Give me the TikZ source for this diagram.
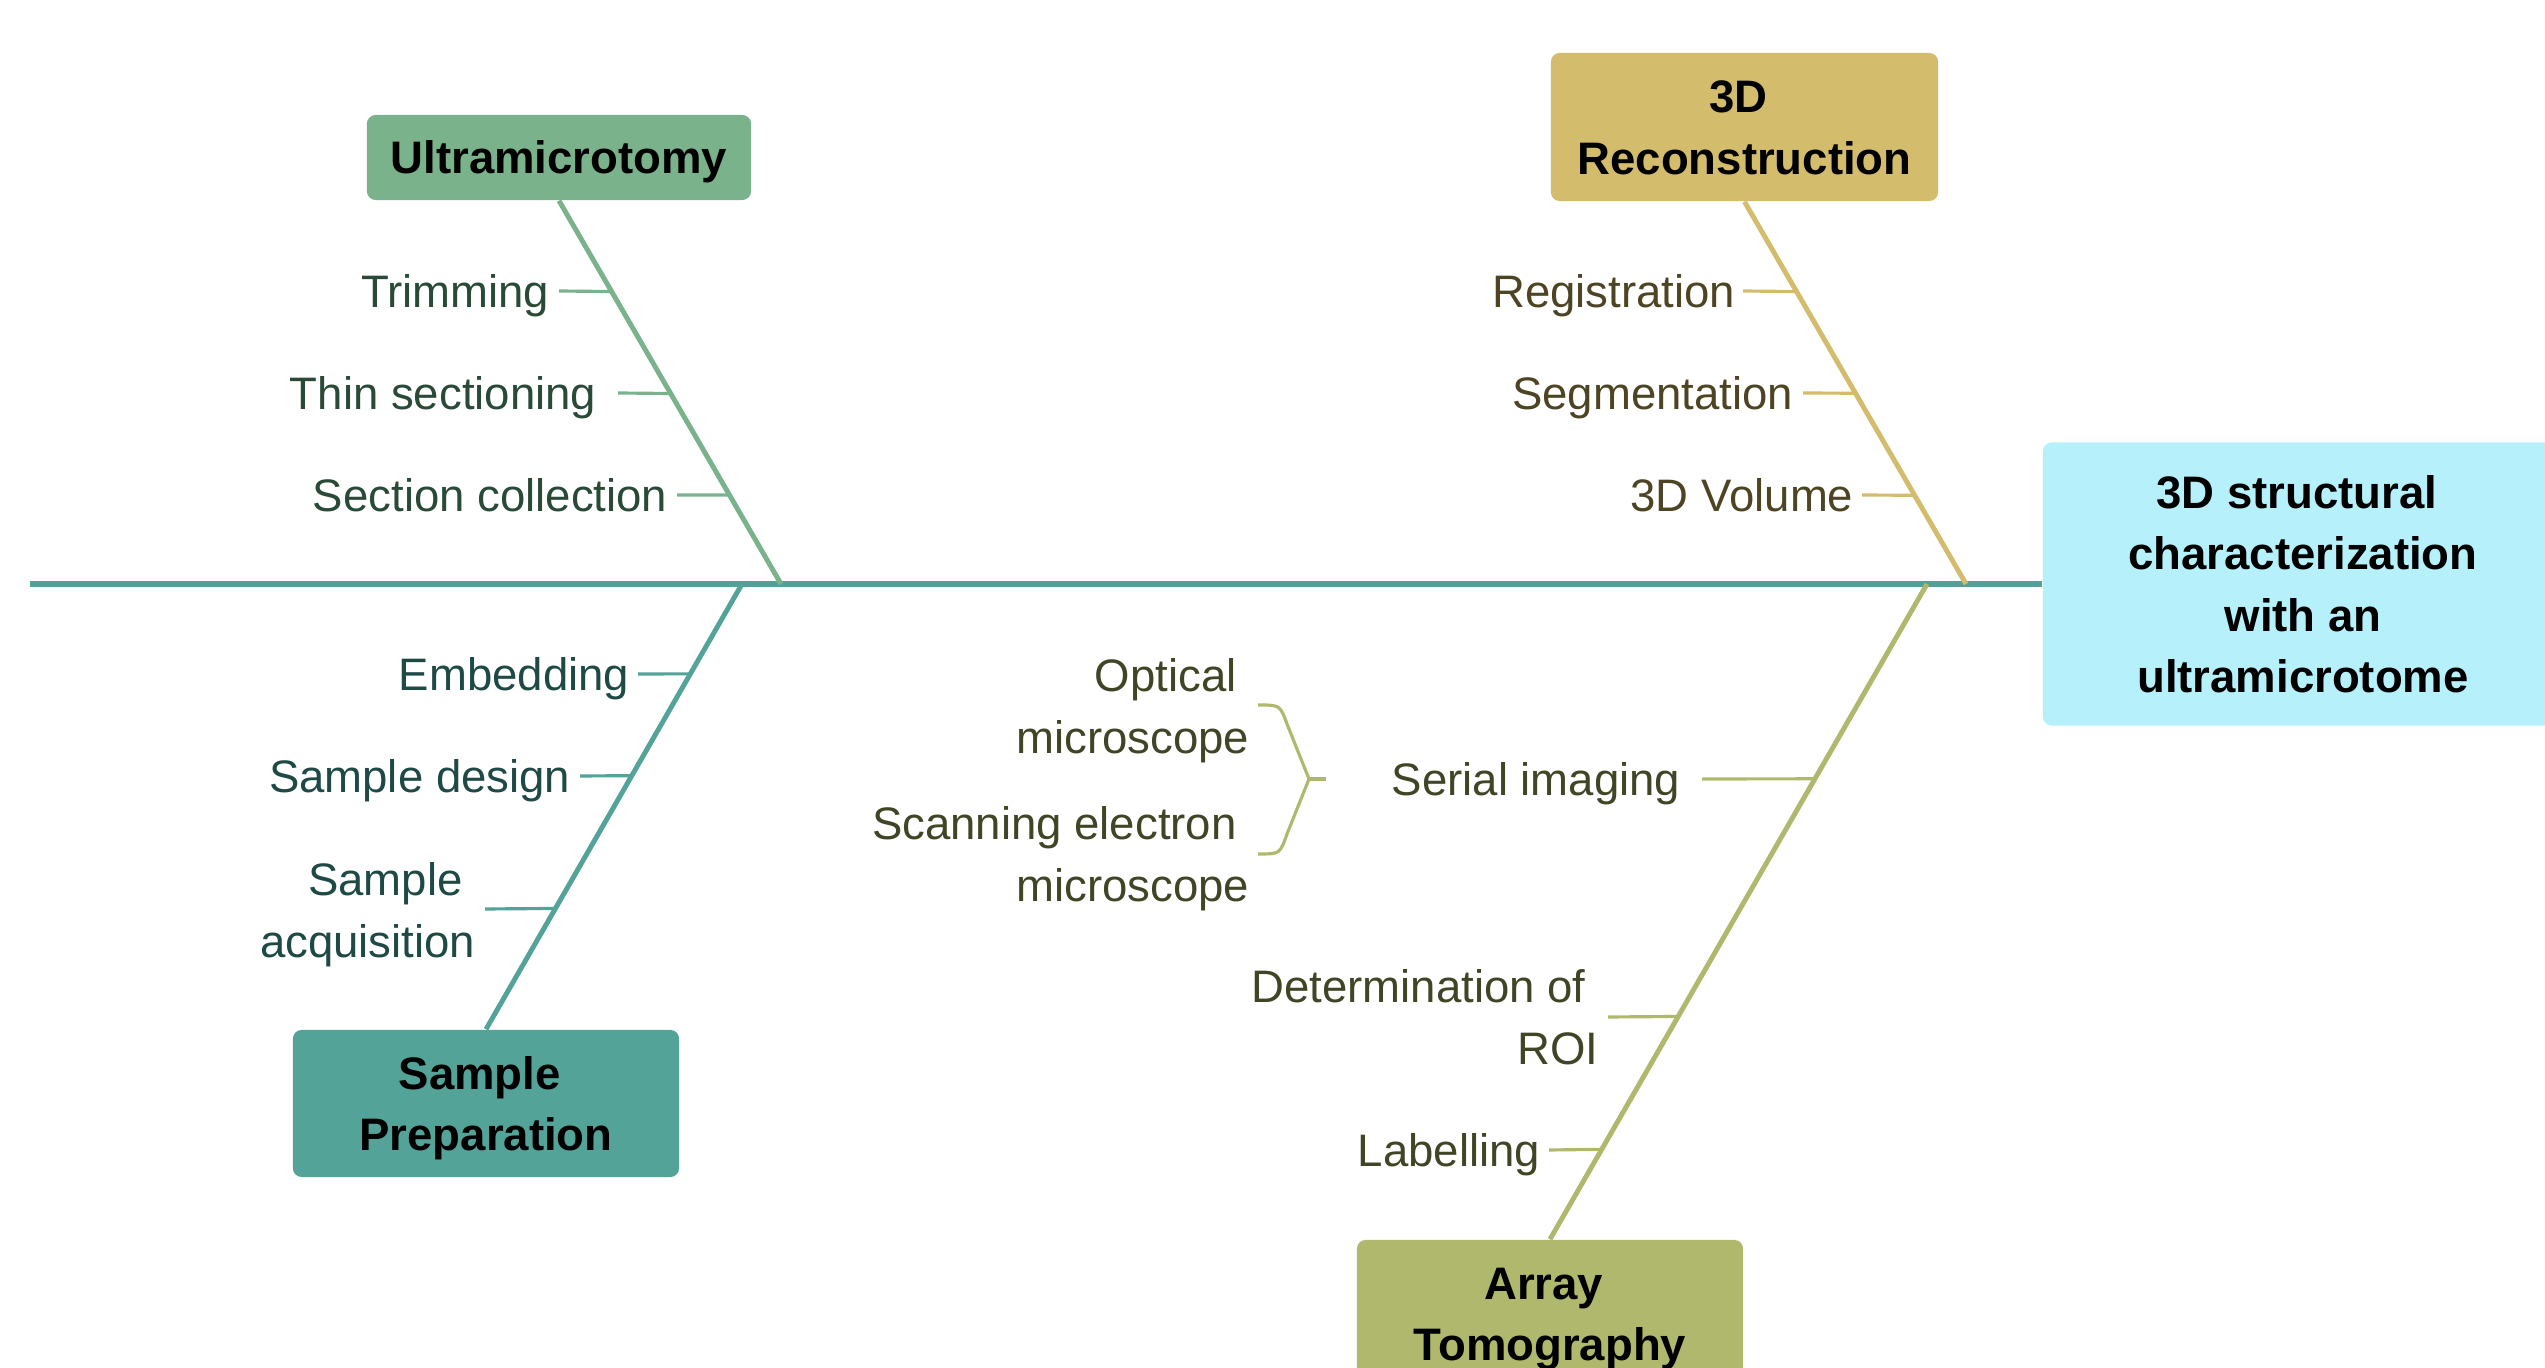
\documentclass[tikz,border=0pt]{standalone}
\usepackage{fontspec}
\setmainfont{Liberation Sans}
\usetikzlibrary{calc}
\definecolor{umc}{HTML}{7AB38B}
\definecolor{recc}{HTML}{D4BC6D}
\definecolor{spc}{HTML}{53A399}
\definecolor{atc}{HTML}{AFB86C}
\definecolor{mainc}{HTML}{B5F0FB}
\definecolor{spinec}{HTML}{54A096}
\definecolor{umt}{HTML}{284A36}
\definecolor{rect}{HTML}{4D4424}
\definecolor{spt}{HTML}{1E4945}
\definecolor{att}{HTML}{3F4525}
\newcommand\mys{\rule[-0.26em]{0pt}{1.02em}}
\newcommand\tsp{\hspace*{0.278em}}
\begin{document}
\begin{tikzpicture}[x=0.01cm,y=-0.01cm,
  lbl/.style={inner sep=0pt, anchor=east, align=right, yshift=-1.42pt,
    font=\fontsize{12.95pt}{17.6pt}\selectfont},
  catbox/.style={inner sep=0pt, rounded corners=2.5pt, minimum width=3.86cm,
    minimum height=1.47cm},
  boxtext/.style={inner sep=0pt, align=center, text=black, yshift=-1.42pt,
    font=\fontsize{12.95pt}{17.5pt}\selectfont\bfseries},
  bone/.style={line width=1.4pt},
  tickln/.style={line width=0.9pt},
  spineln/.style={line width=1.7pt, draw=spinec}]
\useasboundingbox (0,0) rectangle (2545,1368);
\clip (0,0) rectangle (2545,1368);

% boxes
\node[catbox, fill=mainc, minimum width=5.20cm, minimum height=2.83cm] (M) at (2303,584) {};
\node[catbox, fill=umc, minimum width=3.84cm, minimum height=0.85cm] (U) at (559,157.5) {};
\node[catbox, fill=recc, minimum width=3.87cm, minimum height=1.48cm] (R) at (1744.5,127) {};
\node[catbox, fill=spc] (S) at (486,1103.5) {};
\node[catbox, fill=atc] (A) at (1550,1313.5) {};

\node[boxtext] (Mt) at (M.center)
  {\mys 3D structural\tsp\\\mys characterization\tsp\\\mys with an\tsp\\\mys ultramicrotome};
\node[boxtext] (Ut) at (U.center) {\mys Ultramicrotomy};
\node[boxtext] (Rt) at (R.center) {\mys 3D\tsp\\\mys Reconstruction};
\node[boxtext] (St) at (S.center) {\mys Sample\tsp\\\mys Preparation};
\node[boxtext] (At) at (A.center) {\mys Array\tsp\\\mys Tomography};

% spine
\coordinate (spL) at (30,584);
\draw[spineln] (spL) -- (M.west);

% junctions on spine
\coordinate (Uj) at (781,584);
\coordinate (Rj) at (1966,584);
\coordinate (Sj) at (742,584);
\coordinate (Aj) at (1927,584);

% bones
\draw[bone, draw=umc] (U.south) -- (Uj);
\draw[bone, draw=recc] (R.south) -- (Rj);
\draw[bone, draw=spc] (Sj) -- (S.north);
\draw[bone, draw=atc] (Aj) -- (A.north);

% labels
\node[lbl, text=umt] (l1) at (550,291) {\mys Trimming};
\node[lbl, text=umt] (l2) at (597,393) {\mys Thin sectioning};
\node[lbl, text=umt] (l3) at (668,495) {\mys Section collection};
\node[lbl, text=rect] (l4) at (1736,291) {\mys Registration};
\node[lbl, text=rect] (l5) at (1794,393) {\mys Segmentation};
\node[lbl, text=rect] (l6) at (1854,495) {\mys 3D Volume};
\node[lbl, text=spt] (l7) at (630,674) {\mys Embedding};
\node[lbl, text=spt] (l8) at (571,776) {\mys Sample design};
\node[lbl, text=spt] (l9) at (476,910) {\mys Sample\tsp\\\mys acquisition};
\node[lbl, text=att] (l10) at (1681,779) {\mys Serial imaging};
\node[lbl, text=att] (l11) at (1599,1017) {\mys Determination of\tsp\\\mys ROI};
\node[lbl, text=att] (l12) at (1541,1150) {\mys Labelling};
\node[lbl, text=att] (l13) at (1250,706) {\mys Optical\tsp\\\mys microscope};
\node[lbl, text=att] (l14) at (1250,854) {\mys Scanning electron\tsp\\\mys microscope};

% tick starts
\coordinate (s1) at (559,291);
\coordinate (s2) at (618,393);
\coordinate (s3) at (677,495);
\coordinate (s4) at (1743,291);
\coordinate (s5) at (1803,393);
\coordinate (s6) at (1862,495);
\coordinate (s7) at (638,674);
\coordinate (s8) at (580,776);
\coordinate (s9) at (485,909);
\coordinate (s10) at (1702,779);
\coordinate (s11) at (1608,1017);
\coordinate (s12) at (1549,1150);

% tick ends on bones
\coordinate (e1) at ($(U.south)!0.237!(Uj)$);
\coordinate (e2) at ($(U.south)!0.503!(Uj)$);
\coordinate (e3) at ($(U.south)!0.768!(Uj)$);
\coordinate (e4) at ($(R.south)!0.235!(Rj)$);
\coordinate (e5) at ($(R.south)!0.501!(Rj)$);
\coordinate (e6) at ($(R.south)!0.768!(Rj)$);
\coordinate (e7) at ($(Sj)!0.2018!(S.north)$);
\coordinate (e8) at ($(Sj)!0.4305!(S.north)$);
\coordinate (e9) at ($(Sj)!0.7287!(S.north)$);
\coordinate (e10) at ($(Aj)!0.2973!(A.north)$);
\coordinate (e11) at ($(Aj)!0.66!(A.north)$);
\coordinate (e12) at ($(Aj)!0.8628!(A.north)$);

\draw[tickln, draw=umc] (s1) -- (e1) (s2) -- (e2) (s3) -- (e3);
\draw[tickln, draw=recc] (s4) -- (e4) (s5) -- (e5) (s6) -- (e6);
\draw[tickln, draw=spc] (s7) -- (e7) (s8) -- (e8) (s9) -- (e9);
\draw[tickln, draw=atc] (s10) -- (e10) (s11) -- (e11) (s12) -- (e12);

% brace
\coordinate (br1) at (1258,705);
\coordinate (br2) at (1309,779);
\coordinate (br3) at (1258,854);
\coordinate (brt) at (1326,779);
\draw[tickln, draw=atc] (br1) .. controls (1280,705) .. (1287,724) -- (br2)
  -- (1287,834) .. controls (1280,854) .. (br3);
\draw[tickln, draw=atc] (br2) -- (brt);
\end{tikzpicture}
\end{document}
